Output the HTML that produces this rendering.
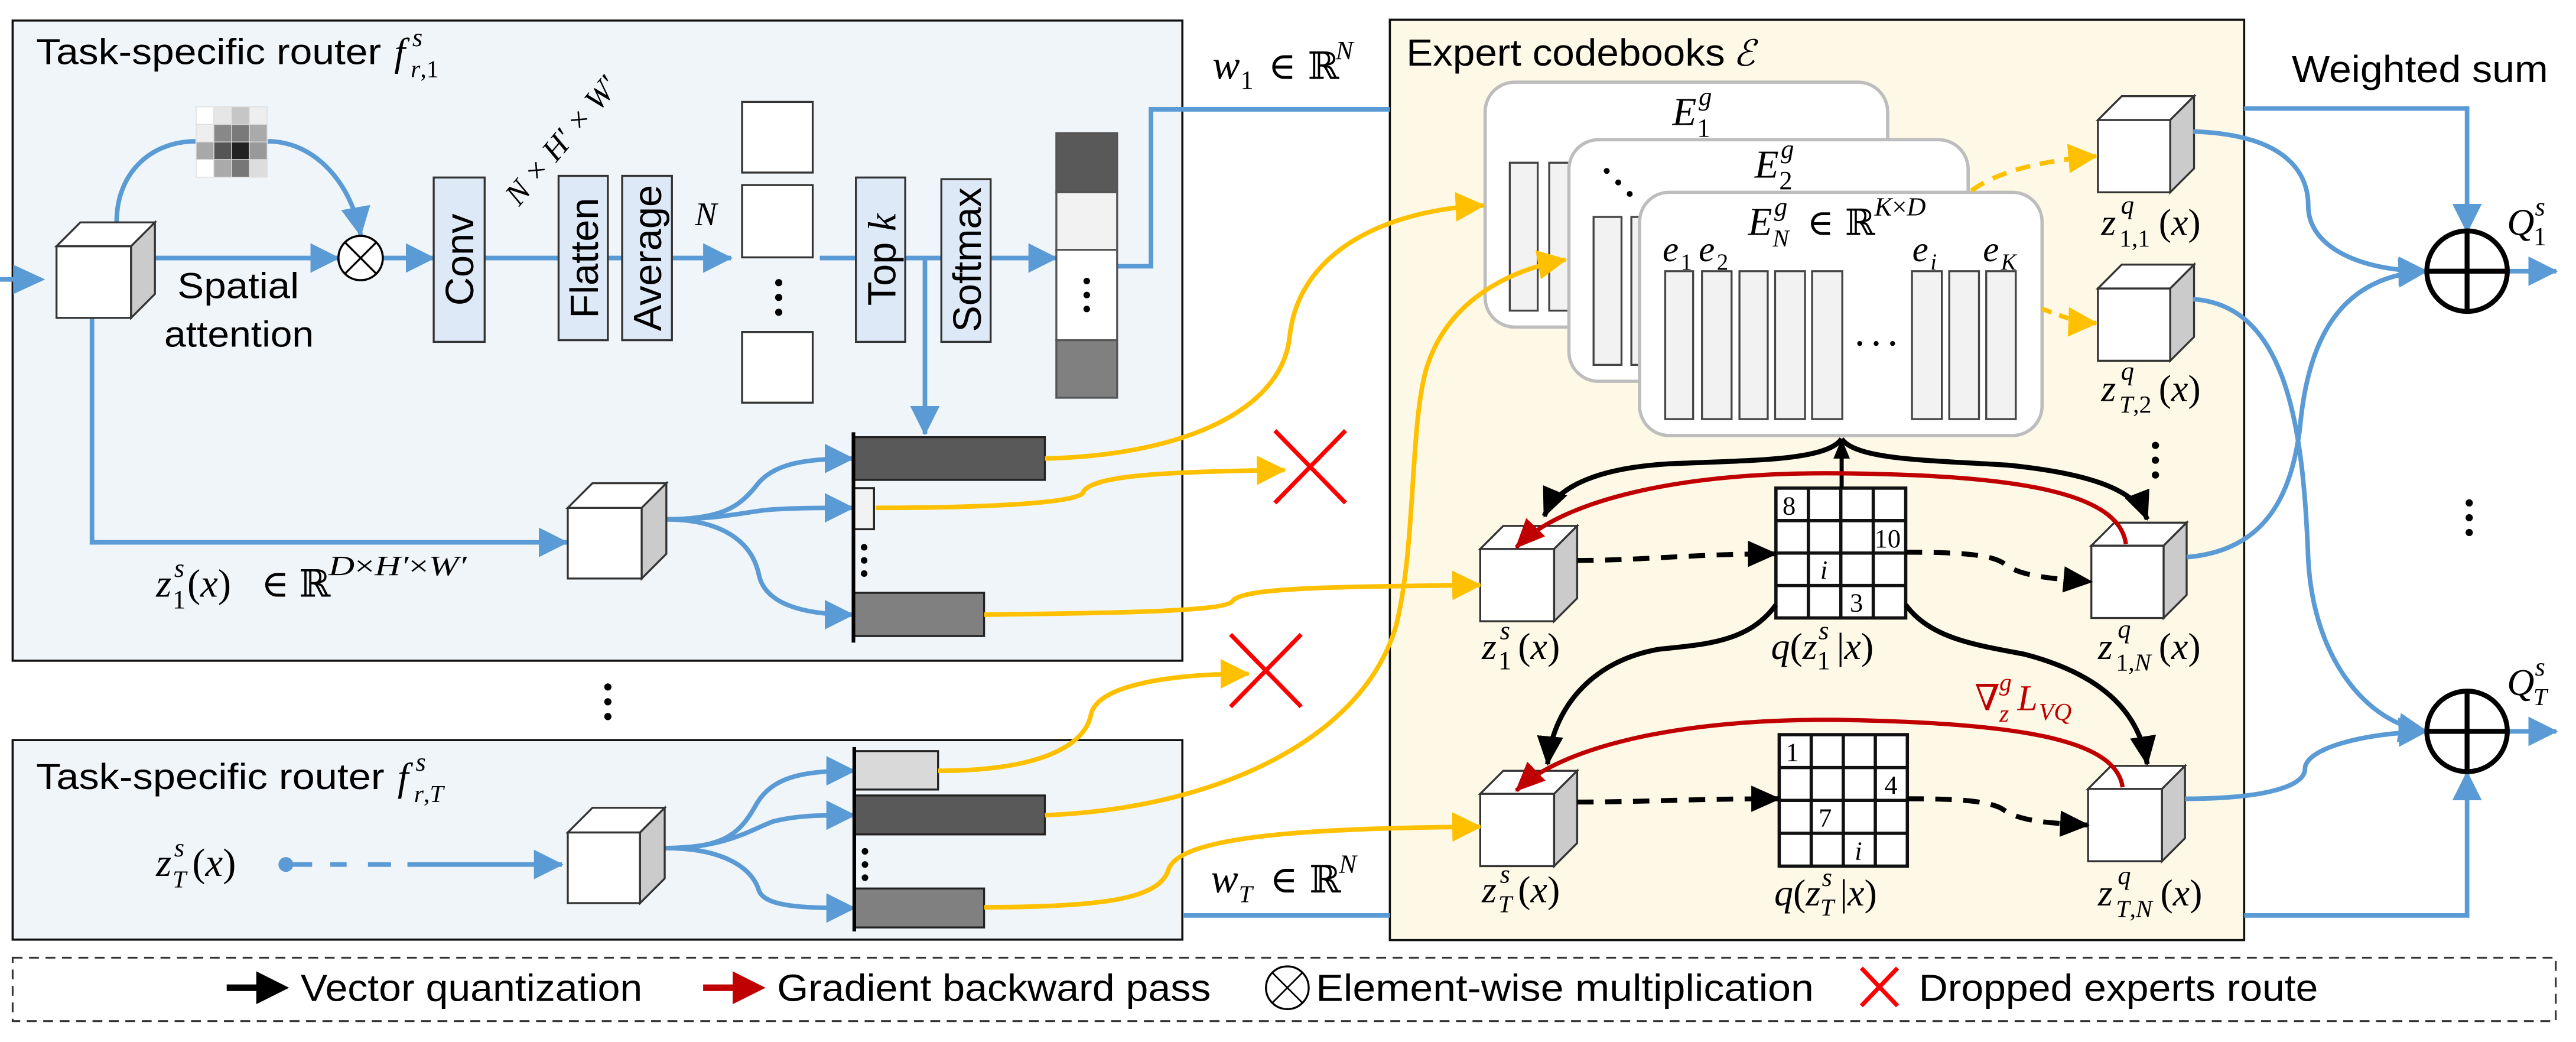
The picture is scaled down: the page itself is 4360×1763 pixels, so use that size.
<!DOCTYPE html>
<html><head><meta charset="utf-8"><style>
html,body{margin:0;padding:0;background:#fff;}
svg{display:block;}
.s{font-family:"Liberation Sans",Arial,sans-serif;fill:#000;}
.m{font-family:"Liberation Serif","DejaVu Serif",serif;font-style:italic;fill:#000;}
.r{font-family:"Liberation Serif","DejaVu Serif",serif;fill:#000;}
</style></head><body>
<svg xmlns="http://www.w3.org/2000/svg" width="4360" height="1763" viewBox="0 0 1568 634" preserveAspectRatio="none">
<defs>
<marker id="ab" markerUnits="userSpaceOnUse" markerWidth="18" markerHeight="18" refX="17" refY="9" orient="auto"><path d="M0,0 L18,9 L0,18 z" fill="#5b9bd5"/></marker>
<marker id="ay" markerUnits="userSpaceOnUse" markerWidth="18" markerHeight="18" refX="17" refY="9" orient="auto"><path d="M0,0 L18,9 L0,18 z" fill="#ffc000"/></marker>
<marker id="ak" markerUnits="userSpaceOnUse" markerWidth="18" markerHeight="16" refX="17" refY="8" orient="auto"><path d="M0,0 L18,8 L0,16 z" fill="#000"/></marker>
<marker id="ak2" markerUnits="userSpaceOnUse" markerWidth="12" markerHeight="10" refX="11" refY="5" orient="auto"><path d="M0,0 L12,5 L0,10 z" fill="#000"/></marker>
<marker id="ar" markerUnits="userSpaceOnUse" markerWidth="18" markerHeight="16" refX="17" refY="8" orient="auto"><path d="M0,0 L18,8 L0,16 z" fill="#c00000"/></marker>
</defs>

<rect x="7.7" y="12.5" width="712" height="389.5" fill="#f0f5fa" stroke="#111" stroke-width="1.3"/>
<rect x="7.7" y="450.3" width="712" height="121.4" fill="#f0f5fa" stroke="#111" stroke-width="1.3"/>
<rect x="846" y="12" width="520" height="560" fill="#fef8e7" stroke="#111" stroke-width="1.3"/>

<text class="s" x="22" y="39" font-size="22" textLength="210" lengthAdjust="spacingAndGlyphs">Task-specific router</text>
<text class="m" x="240" y="40" font-size="24">f</text>
<text class="m" x="251" y="28" font-size="16">s</text>
<text class="m" x="250" y="47" font-size="15">r<tspan class="r" font-style="normal">,1</tspan></text>

<g stroke="#ddd" stroke-width="0.5">
<rect x="119.4" y="65" width="10.8" height="10.7" fill="#ffffff"/><rect x="130.2" y="65" width="10.8" height="10.7" fill="#e6e6e6"/><rect x="141" y="65" width="10.8" height="10.7" fill="#c6c6c6"/><rect x="151.8" y="65" width="10.8" height="10.7" fill="#eeeeee"/>
<rect x="119.4" y="75.7" width="10.8" height="10.7" fill="#eeeeee"/><rect x="130.2" y="75.7" width="10.8" height="10.7" fill="#888"/><rect x="141" y="75.7" width="10.8" height="10.7" fill="#7a7a7a"/><rect x="151.8" y="75.7" width="10.8" height="10.7" fill="#aaaaaa"/>
<rect x="119.4" y="86.4" width="10.8" height="10.7" fill="#a8a8a8"/><rect x="130.2" y="86.4" width="10.8" height="10.7" fill="#555"/><rect x="141" y="86.4" width="10.8" height="10.7" fill="#222"/><rect x="151.8" y="86.4" width="10.8" height="10.7" fill="#999"/>
<rect x="119.4" y="97.1" width="10.8" height="10.7" fill="#ffffff"/><rect x="130.2" y="97.1" width="10.8" height="10.7" fill="#aaaaaa"/><rect x="141" y="97.1" width="10.8" height="10.7" fill="#777"/><rect x="151.8" y="97.1" width="10.8" height="10.7" fill="#dddddd"/>
</g>

<g fill="none" stroke="#5b9bd5" stroke-width="2.8">
<path d="M0,170 H10"/>
<path d="M71,135 C71,105 92,86 119,86"/>
<path d="M163,86 C192,86 214,112 219.5,143" marker-end="url(#ab)"/>
<path d="M94,157 H206" marker-end="url(#ab)"/>
<path d="M233,157 H264" marker-end="url(#ab)"/>
<path d="M295,157 H340"/>
<path d="M370,157 H379"/>
<path d="M409,157 H445" marker-end="url(#ab)"/>
<path d="M499,157 H521"/>
<path d="M551,157 H573"/>
<path d="M563,157 V264" marker-end="url(#ab)"/>
<path d="M603,157 H643" marker-end="url(#ab)"/>
<path d="M680,162 H700.6 V66.5 H846"/>
<path d="M56,193 V330 H345" marker-end="url(#ab)"/>
<path d="M405,316 C440,316 450,308 460,296 C470,282 490,279 519,279" marker-end="url(#ab)"/>
<path d="M405,316 C440,316 455,311 470,310 C485,309 500,309 519,309" marker-end="url(#ab)"/>
<path d="M405,316 C440,316 458,330 462,350 C466,368 490,374 519,374" marker-end="url(#ab)"/>
<path d="M405,516 C440,516 450,508 460,490 C470,472 490,469 520,469" marker-end="url(#ab)"/>
<path d="M405,516 C440,516 455,506 470,500 C485,496 500,496 520,496" marker-end="url(#ab)"/>
<path d="M405,516 C440,516 458,528 462,542 C466,552 490,552.5 520,552.5" marker-end="url(#ab)"/>
<path d="M174,526 H190 M201,526 H211 M224,526 H238 M248,526 H342" marker-end="url(#ab)"/>
<path d="M720,557 H846"/>
</g>
<path d="M8,161 L27.5,170 L8,179 z" fill="#5b9bd5"/>
<circle cx="174" cy="526" r="4.5" fill="#5b9bd5"/>

<circle cx="219.5" cy="157" r="13.5" fill="#fff" stroke="#000" stroke-width="1.3"/>
<path d="M210,147.5 L229,166.5 M229,147.5 L210,166.5" stroke="#000" stroke-width="1.2"/>

<text class="s" x="108" y="181.5" font-size="22" textLength="74" lengthAdjust="spacingAndGlyphs">Spatial</text>
<text class="s" x="100" y="211" font-size="22" textLength="91" lengthAdjust="spacingAndGlyphs">attention</text>

<g fill="#dde9f6" stroke="#333" stroke-width="1.2">
<rect x="264" y="108" width="31" height="100"/>
<rect x="340" y="107" width="30" height="100"/>
<rect x="378.7" y="107" width="30.3" height="100"/>
<rect x="521" y="108" width="30" height="100"/>
<rect x="573" y="109" width="30" height="99"/>
</g>
<text class="s" font-size="24" transform="translate(288,158) rotate(-90)" text-anchor="middle">Conv</text>
<text class="s" font-size="24" transform="translate(364,157) rotate(-90)" text-anchor="middle">Flatten</text>
<text class="s" font-size="24" transform="translate(402.5,157) rotate(-90)" text-anchor="middle">Average</text>
<text class="s" font-size="24" transform="translate(545,158) rotate(-90)" text-anchor="middle">Top <tspan class="m">k</tspan></text>
<text class="s" font-size="24" transform="translate(597,158) rotate(-90)" text-anchor="middle">Softmax</text>
<text class="m" font-size="19" transform="translate(316,126) rotate(-50)">N × H′ × W′</text>
<text class="m" x="423" y="137" font-size="20">N</text>

<g fill="#fff" stroke="#333" stroke-width="1.2">
<rect x="451.7" y="62" width="43" height="43"/>
<rect x="451.7" y="112.6" width="43" height="44"/>
<rect x="451.7" y="202" width="43" height="43"/>
</g>
<g fill="#000"><circle cx="474" cy="172" r="2.2"/><circle cx="474" cy="181" r="2.2"/><circle cx="474" cy="190" r="2.2"/></g>

<g stroke="#555" stroke-width="1.2">
<rect x="643" y="81" width="37" height="36" fill="#595959"/>
<rect x="643" y="117" width="37" height="35" fill="#f2f2f2"/>
<rect x="643" y="152" width="37" height="55" fill="#fff"/>
<rect x="643" y="207" width="37" height="35" fill="#808080"/>
</g>
<g fill="#000"><circle cx="661.5" cy="171" r="2"/><circle cx="661.5" cy="179.5" r="2"/><circle cx="661.5" cy="188" r="2"/></g>

<!-- w1 -->
<text class="m" x="738" y="48" font-size="25">w</text>
<text class="r" x="755" y="54" font-size="16">1</text>
<text class="r" x="772" y="48" font-size="23">∈</text>
<text class="r" x="796" y="48" font-size="23">ℝ</text>
<text class="m" x="813" y="36" font-size="16">N</text>

<!-- z1 label -->
<text class="m" x="95" y="363" font-size="24">z</text>
<text class="m" x="106" y="351" font-size="16">s</text>
<text class="r" x="105" y="370" font-size="16">1</text>
<text class="m" x="114" y="363" font-size="24"><tspan class="r" font-style="normal">(</tspan>x<tspan class="r" font-style="normal">)</tspan></text>
<text class="r" x="159" y="363" font-size="23">∈</text>
<text class="r" x="182" y="363" font-size="23">ℝ</text>
<text class="m" x="200" y="350" font-size="17" textLength="84" lengthAdjust="spacingAndGlyphs">D<tspan class="r" font-style="normal">×</tspan>H′<tspan class="r" font-style="normal">×</tspan>W′</text>

<g stroke="#333" stroke-width="1.2">
<rect x="34.4" y="149.8" width="45.4" height="43.6" fill="#fff"/>
<polygon points="34.4,149.8 48.9,135.3 94.3,135.3 79.8,149.8" fill="#fff"/>
<polygon points="79.8,149.8 94.3,135.3 94.3,178.9 79.8,193.4" fill="#cbcbcb"/>
<rect x="345.6" y="309" width="45" height="43" fill="#fff"/>
<polygon points="345.6,309 360.6,294 405.6,294 390.6,309" fill="#fff"/>
<polygon points="390.6,309 405.6,294 405.6,337 390.6,352" fill="#cbcbcb"/>
<rect x="345.6" y="506.5" width="44" height="43" fill="#fff"/>
<polygon points="345.6,506.5 360.6,491.5 404.6,491.5 389.6,506.5" fill="#fff"/>
<polygon points="389.6,506.5 404.6,491.5 404.6,534.5 389.6,549.5" fill="#cbcbcb"/>
</g>

<g stroke="#222" stroke-width="1.2">
<rect x="519.5" y="266" width="116.5" height="26" fill="#595959"/>
<rect x="519.5" y="297" width="12.5" height="25" fill="#f2f2f2"/>
<rect x="519.5" y="360.7" width="79.5" height="26.3" fill="#808080"/>
<rect x="520" y="457" width="51" height="23.4" fill="#d9d9d9"/>
<rect x="520" y="484" width="116" height="23.7" fill="#595959"/>
<rect x="520" y="540.6" width="79" height="23.7" fill="#808080"/>
</g>
<path d="M519.5,263 V391 M520,454.5 V566.7" stroke="#000" stroke-width="2.2"/>
<g fill="#000">
<circle cx="526" cy="333" r="2"/><circle cx="526" cy="341" r="2"/><circle cx="526" cy="349" r="2"/>
<circle cx="526.5" cy="518" r="2"/><circle cx="526.5" cy="526" r="2"/><circle cx="526.5" cy="534" r="2"/>
<circle cx="370" cy="418" r="2.2"/><circle cx="370" cy="427" r="2.2"/><circle cx="370" cy="436" r="2.2"/>
</g>

<text class="s" x="22" y="480" font-size="22" textLength="212" lengthAdjust="spacingAndGlyphs">Task-specific router</text>
<text class="m" x="242" y="481" font-size="24">f</text>
<text class="m" x="253" y="469" font-size="16">s</text>
<text class="m" x="252" y="488" font-size="15">r<tspan class="r" font-style="normal">,</tspan>T</text>
<text class="m" x="95" y="533" font-size="24">z</text>
<text class="m" x="106" y="521" font-size="16">s</text>
<text class="m" x="105" y="540" font-size="15">T</text>
<text class="m" x="117" y="533" font-size="24"><tspan class="r" font-style="normal">(</tspan>x<tspan class="r" font-style="normal">)</tspan></text>

<!-- wT -->
<text class="m" x="737" y="543" font-size="25">w</text>
<text class="m" x="754" y="549" font-size="15">T</text>
<text class="r" x="773" y="543" font-size="23">∈</text>
<text class="r" x="797" y="543" font-size="23">ℝ</text>
<text class="m" x="815" y="531" font-size="16">N</text>

<text class="s" x="856" y="40" font-size="23" textLength="194" lengthAdjust="spacingAndGlyphs">Expert codebooks</text>
<text x="1055" y="40" font-size="22" font-family="DejaVu Serif,serif" font-style="italic">ℰ</text>

<rect x="904" y="50" width="245" height="149" rx="18" fill="#fff" stroke="#bdbdbd" stroke-width="2"/>
<g fill="#f2f2f2" stroke="#444" stroke-width="1.2"><rect x="919" y="99" width="17" height="90"/><rect x="943" y="99" width="16" height="90"/></g>
<text class="m" x="1018" y="76" font-size="24">E</text>
<text class="m" x="1034" y="64" font-size="16">g</text>
<text class="r" x="1033" y="83" font-size="16">1</text>
<rect x="955" y="85" width="243" height="147" rx="18" fill="#fff" stroke="#bdbdbd" stroke-width="2"/>
<g fill="#f2f2f2" stroke="#444" stroke-width="1.2"><rect x="970" y="132" width="17" height="90"/><rect x="993" y="132" width="17" height="90"/></g>
<g fill="#000"><circle cx="978" cy="104" r="1.8"/><circle cx="985" cy="111" r="1.8"/><circle cx="992" cy="118" r="1.8"/></g>
<text class="m" x="1068" y="108" font-size="24">E</text>
<text class="m" x="1084" y="96" font-size="16">g</text>
<text class="r" x="1083" y="115" font-size="16">2</text>
<rect x="998" y="117" width="245" height="148" rx="18" fill="#fff" stroke="#bdbdbd" stroke-width="2"/>
<text class="m" x="1064" y="143" font-size="24">E</text>
<text class="m" x="1080" y="131" font-size="16">g</text>
<text class="m" x="1079" y="150" font-size="15">N</text>
<text class="r" x="1100" y="143" font-size="22">∈</text>
<text class="r" x="1123" y="143" font-size="22">ℝ</text>
<text class="m" x="1141" y="131" font-size="16">K<tspan class="r" font-style="normal">×</tspan>D</text>
<text class="m" x="1012" y="159" font-size="22">e</text><text class="r" x="1023" y="164" font-size="14">1</text>
<text class="m" x="1034" y="159" font-size="22">e</text><text class="r" x="1045" y="164" font-size="14">2</text>
<text class="m" x="1164" y="159" font-size="22">e</text><text class="m" x="1175" y="164" font-size="14">i</text>
<text class="m" x="1207" y="159" font-size="22">e</text><text class="m" x="1218" y="164" font-size="14">K</text>
<g fill="#f2f2f2" stroke="#444" stroke-width="1.2">
<rect x="1013.6" y="165" width="17" height="90"/><rect x="1036" y="165" width="18" height="90"/><rect x="1058.8" y="165" width="17.2" height="90"/><rect x="1080.5" y="165" width="18.2" height="90"/><rect x="1103" y="165" width="18.4" height="90"/>
<rect x="1163.8" y="165" width="18.2" height="90"/><rect x="1186.5" y="165" width="18.1" height="90"/><rect x="1209" y="165" width="18" height="90"/>
</g>
<g fill="#000"><circle cx="1132" cy="209" r="1.5"/><circle cx="1142" cy="209" r="1.5"/><circle cx="1152" cy="209" r="1.5"/></g>

<g fill="#fff" stroke="#111" stroke-width="2">
<rect x="1081" y="297" width="79" height="79"/>
<path d="M1100.75,297 V376 M1120.5,297 V376 M1140.25,297 V376 M1081,316.75 H1160 M1081,336.5 H1160 M1081,356.25 H1160" fill="none"/>
<rect x="1083" y="447" width="78" height="80"/>
<path d="M1102.5,447 V527 M1122,447 V527 M1141.5,447 V527 M1083,467 H1161 M1083,487 H1161 M1083,507 H1161" fill="none"/>
</g>
<g font-size="16">
<text class="r" x="1085" y="313">8</text><text class="r" x="1141" y="333">10</text><text class="m" x="1108" y="352">i</text><text class="r" x="1126" y="372">3</text>
<text class="r" x="1087" y="463">1</text><text class="r" x="1147" y="483">4</text><text class="r" x="1107" y="503">7</text><text class="m" x="1129" y="523">i</text>
</g>

<g stroke="#333" stroke-width="1.2">
<rect x="901" y="334" width="45" height="44" fill="#fff"/>
<polygon points="901,334 915,320 960,320 946,334" fill="#fff"/>
<polygon points="946,334 960,320 960,364 946,378" fill="#cbcbcb"/>
<rect x="901" y="483" width="45" height="44" fill="#fff"/>
<polygon points="901,483 915,469 960,469 946,483" fill="#fff"/>
<polygon points="946,483 960,469 960,513 946,527" fill="#cbcbcb"/>
<rect x="1277" y="73" width="44" height="44" fill="#fff"/>
<polygon points="1277,73 1291.5,58.5 1335.5,58.5 1321,73" fill="#fff"/>
<polygon points="1321,73 1335.5,58.5 1335.5,102.5 1321,117" fill="#cbcbcb"/>
<rect x="1277" y="175.5" width="44" height="44" fill="#fff"/>
<polygon points="1277,175.5 1291.5,161 1335.5,161 1321,175.5" fill="#fff"/>
<polygon points="1321,175.5 1335.5,161 1335.5,205 1321,219.5" fill="#cbcbcb"/>
<rect x="1273" y="332" width="44" height="44" fill="#fff"/>
<polygon points="1273,332 1287,318 1331,318 1317,332" fill="#fff"/>
<polygon points="1317,332 1331,318 1331,362 1317,376" fill="#cbcbcb"/>
<rect x="1271" y="480" width="45" height="44" fill="#fff"/>
<polygon points="1271,480 1285,466 1330,466 1316,480" fill="#fff"/>
<polygon points="1316,480 1330,466 1330,510 1316,524" fill="#cbcbcb"/>
</g>

<g>
<text class="m" x="902" y="401" font-size="23">z</text><text class="m" x="913" y="389" font-size="16">s</text><text class="r" x="912" y="407" font-size="16">1</text>
<text class="m" x="924" y="401" font-size="23"><tspan class="r" font-style="normal">(</tspan>x<tspan class="r" font-style="normal">)</tspan></text>
<text class="m" x="902" y="549" font-size="23">z</text><text class="m" x="913" y="537" font-size="16">s</text><text class="m" x="912" y="555" font-size="15">T</text>
<text class="m" x="924" y="549" font-size="23"><tspan class="r" font-style="normal">(</tspan>x<tspan class="r" font-style="normal">)</tspan></text>
<text class="m" x="1078" y="401" font-size="23">q<tspan class="r" font-style="normal">(</tspan>z</text><text class="m" x="1107" y="389" font-size="16">s</text><text class="r" x="1106" y="407" font-size="16">1</text>
<text class="m" x="1118" y="401" font-size="23"><tspan class="r" font-style="normal">|</tspan>x<tspan class="r" font-style="normal">)</tspan></text>
<text class="m" x="1080" y="551" font-size="23">q<tspan class="r" font-style="normal">(</tspan>z</text><text class="m" x="1109" y="539" font-size="16">s</text><text class="m" x="1108" y="557" font-size="15">T</text>
<text class="m" x="1120" y="551" font-size="23"><tspan class="r" font-style="normal">|</tspan>x<tspan class="r" font-style="normal">)</tspan></text>

<text class="m" x="1279" y="143" font-size="23">z</text><text class="m" x="1291" y="130" font-size="16">q</text><text class="r" x="1290" y="150" font-size="15">1,1</text>
<text class="m" x="1314" y="143" font-size="23"><tspan class="r" font-style="normal">(</tspan>x<tspan class="r" font-style="normal">)</tspan></text>
<text class="m" x="1279" y="244" font-size="23">z</text><text class="m" x="1291" y="231" font-size="16">q</text><text class="m" x="1290" y="251" font-size="15">T<tspan class="r" font-style="normal">,2</tspan></text>
<text class="m" x="1314" y="244" font-size="23"><tspan class="r" font-style="normal">(</tspan>x<tspan class="r" font-style="normal">)</tspan></text>
<text class="m" x="1277" y="401" font-size="23">z</text><text class="m" x="1289" y="388" font-size="16">q</text><text class="m" x="1288" y="408" font-size="15"><tspan class="r" font-style="normal">1,</tspan>N</text>
<text class="m" x="1314" y="401" font-size="23"><tspan class="r" font-style="normal">(</tspan>x<tspan class="r" font-style="normal">)</tspan></text>
<text class="m" x="1277" y="551" font-size="23">z</text><text class="m" x="1289" y="538" font-size="16">q</text><text class="m" x="1288" y="558" font-size="15">T<tspan class="r" font-style="normal">,</tspan>N</text>
<text class="m" x="1315" y="551" font-size="23"><tspan class="r" font-style="normal">(</tspan>x<tspan class="r" font-style="normal">)</tspan></text>
</g>
<g fill="#000"><circle cx="1312" cy="271" r="2.2"/><circle cx="1312" cy="280" r="2.2"/><circle cx="1312" cy="289" r="2.2"/>
<circle cx="1503" cy="306" r="2.2"/><circle cx="1503" cy="315" r="2.2"/><circle cx="1503" cy="324" r="2.2"/></g>

<g fill="none" stroke="#000" stroke-width="3">
<path d="M1121,267 C1112,280 1070,280 1020,282 C975,284 948,295 940,314" marker-end="url(#ak)"/>
<path d="M1121,267 C1130,280 1175,280 1222,283 C1272,288 1300,298 1307,316" marker-end="url(#ak)"/>
<path d="M1121,297 V268" stroke-width="2.5" marker-end="url(#ak2)"/>
<path d="M1081,368 C1065,390 1040,392 1010,395 C968,402 945,432 942,465" marker-end="url(#ak)"/>
<path d="M1160,368 C1175,388 1200,392 1232,398 C1278,410 1302,432 1307,465" marker-end="url(#ak)"/>
<g stroke-dasharray="10,7">
<path d="M960,341 C1000,341 1030,337 1081,337" marker-end="url(#ak)"/>
<path d="M1160,336 C1190,336 1212,337 1220,343 C1230,351 1250,352 1273,354" marker-end="url(#ak)"/>
<path d="M960,488 C1000,488 1030,486 1083,486" marker-end="url(#ak)"/>
<path d="M1161,486 C1190,486 1212,487 1220,493 C1230,500 1250,501 1271,502" marker-end="url(#ak)"/>
</g>
</g>

<g fill="none" stroke="#c00000" stroke-width="2.6">
<path d="M1294,331 C1290,300 1230,289 1120,288 C1020,287 950,305 923,333" marker-end="url(#ar)"/>
<path d="M1292,479 C1288,450 1230,440 1120,438 C1020,437 950,455 923,481" marker-end="url(#ar)"/>
</g>
<text class="r" x="1202" y="432" font-size="22" fill="#c00000" style="fill:#c00000">∇</text>
<text class="m" x="1217" y="420" font-size="15" style="fill:#c00000">g</text>
<text class="m" x="1217" y="439" font-size="15" style="fill:#c00000">z</text>
<text class="m" x="1228" y="432" font-size="22" style="fill:#c00000">L</text>
<text class="m" x="1241" y="438" font-size="15" style="fill:#c00000">VQ</text>

<g fill="none" stroke="#ffc000" stroke-width="2.8">
<path d="M636,279 C720,277 780,250 785,205 C790,155 840,128 903,125" marker-end="url(#ay)"/>
<path d="M533,309 C600,309 655,306 659,300 C663,290 700,287 782,286" marker-end="url(#ay)"/>
<path d="M599,374 C680,373 745,372 750,366 C755,358 800,357 901,356" marker-end="url(#ay)"/>
<path d="M636,496 C740,492 830,450 850,380 C862,330 858,262 868,225 C880,185 915,165 953,158" marker-end="url(#ay)"/>
<path d="M571,469 C630,469 660,455 664,435 C668,415 720,410 760,410" marker-end="url(#ay)"/>
<path d="M599,552 C680,552 705,545 711,530 C716,508 800,504 901,503" marker-end="url(#ay)"/>
<path d="M1200,116 C1215,105 1240,98 1276,95" stroke-dasharray="9,6" marker-end="url(#ay)"/>
<path d="M1243,188 C1255,192 1262,196 1276,196.6" stroke-dasharray="6,5" marker-end="url(#ay)"/>
</g>

<g stroke="#ff0000" stroke-width="2.6">
<path d="M776,262 L819,306 M819,262 L776,306"/>
<path d="M749,386 L792,430 M792,386 L749,430"/>
</g>

<g fill="none" stroke="#5b9bd5" stroke-width="2.8">
<path d="M1366,66 H1501.7 V141" marker-end="url(#ab)"/>
<path d="M1335,80 C1395,82 1405,108 1405,125 C1405,152 1440,165 1477,165" marker-end="url(#ab)"/>
<path d="M1331,339 C1380,335 1395,300 1400,260 C1405,205 1425,168 1477,165" marker-end="url(#ab)"/>
<path d="M1335,182 C1392,186 1402,260 1405,340 C1408,400 1440,440 1477,445" marker-end="url(#ab)"/>
<path d="M1330,486 C1380,486 1403,478 1403,468 C1403,455 1440,446 1477,445" marker-end="url(#ab)"/>
<path d="M1366,557 H1501.7 V470" marker-end="url(#ab)"/>
<path d="M1526,165 H1556" marker-end="url(#ab)"/>
<path d="M1526,445 H1556" marker-end="url(#ab)"/>
</g>
<g fill="none" stroke="#000" stroke-width="3">
<circle cx="1501.7" cy="165" r="24.5"/><path d="M1477.2,165 H1526.2 M1501.7,140.5 V189.5"/>
<circle cx="1501.7" cy="445" r="24.5"/><path d="M1477.2,445 H1526.2 M1501.7,420.5 V469.5"/>
</g>
<text class="m" x="1526" y="143" font-size="23">Q</text><text class="m" x="1543" y="131" font-size="16">s</text><text class="r" x="1542" y="149" font-size="16">1</text>
<text class="m" x="1526" y="423" font-size="23">Q</text><text class="m" x="1543" y="411" font-size="16">s</text><text class="m" x="1542" y="429" font-size="15">T</text>
<text class="s" x="1395" y="50" font-size="23" textLength="156" lengthAdjust="spacingAndGlyphs">Weighted sum</text>

<rect x="7.7" y="582.7" width="1548" height="38.6" fill="none" stroke="#333" stroke-width="1.1" stroke-dasharray="6,4"/>
<path d="M138,601 H160" stroke="#000" stroke-width="4"/><path d="M156,591 L176,601 L156,611 z" fill="#000"/>
<text class="s" x="183" y="609" font-size="23" textLength="208" lengthAdjust="spacingAndGlyphs">Vector quantization</text>
<path d="M428,601 H450" stroke="#c00000" stroke-width="4"/><path d="M446,591 L466,601 L446,611 z" fill="#c00000"/>
<text class="s" x="473" y="609" font-size="23" textLength="264" lengthAdjust="spacingAndGlyphs">Gradient backward pass</text>
<circle cx="783.6" cy="601" r="13" fill="none" stroke="#000" stroke-width="1.2"/>
<path d="M774.4,591.8 L792.8,610.2 M792.8,591.8 L774.4,610.2" stroke="#000" stroke-width="1"/>
<text class="s" x="801" y="609" font-size="23" textLength="303" lengthAdjust="spacingAndGlyphs">Element-wise multiplication</text>
<path d="M1133,589 L1155,612 M1155,589 L1133,612" stroke="#ff0000" stroke-width="2.6"/>
<text class="s" x="1168" y="609" font-size="23" textLength="243" lengthAdjust="spacingAndGlyphs">Dropped experts route</text>
</svg>
</body></html>
